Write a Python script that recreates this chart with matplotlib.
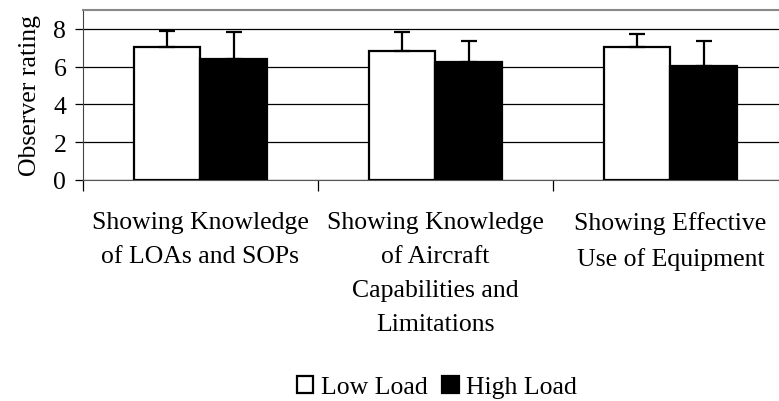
import numpy as np
import matplotlib.pyplot as plt

plt.rcParams['font.family'] = ['Liberation Serif', 'DejaVu Serif']

categories = ['Showing Knowledge\nof LOAs and SOPs',
              'Showing Knowledge\nof Aircraft\nCapabilities and\nLimitations',
              'Showing Effective\nUse of Equipment']
low_load = [7.05, 6.84, 7.02]
low_err = [0.82, 0.99, 0.70]
high_load = [6.40, 6.26, 6.05]
high_err = [1.41, 1.11, 1.29]

fig = plt.figure(figsize=(7.79, 4.02), dpi=100)
ax = fig.add_axes([83/779, 1-181/402, 705/779, 170/402])

x = np.arange(len(categories))
w = 0.285
ekw = dict(elinewidth=1.6, capthick=1.6, capsize=5.5, ecolor='black')
ax.bar(x - w/2, low_load, w, yerr=[[0]*3, low_err], color='white',
       edgecolor='black', linewidth=1.6, error_kw=ekw, label='Low Load', zorder=3)
ax.bar(x + w/2, high_load, w, yerr=[[0]*3, high_err], color='black',
       edgecolor='black', linewidth=1.6, error_kw=ekw, label='High Load', zorder=3)

fs = 18.5
ax.set_xlim(-0.5, 2.5)
ax.set_ylim(0, 9)
ax.set_yticks([0, 2, 4, 6, 8])
ax.yaxis.grid(True, color='black', linewidth=0.9)
ax.set_axisbelow(True)
ax.tick_params(axis='y', labelsize=fs, length=6, width=0.9, pad=6)

# category labels sit between boundary ticks
ax.set_xticks([-0.5, 0.5, 1.5, 2.5])
ax.set_xticklabels([])
ax.tick_params(axis='x', length=8, width=0.9)
for xi, lab in zip(x, categories):
    ax.text(xi, -0.18, lab, transform=ax.get_xaxis_transform(), ha='center',
            va='top', fontsize=fs, linespacing=1.72)

ax.set_ylabel('Observer rating', fontsize=fs, labelpad=9)
for s in ['top', 'right']:
    ax.spines[s].set_color('#888888')
    ax.spines[s].set_linewidth(1.5)
ax.spines['left'].set_color('#444444')
ax.spines['bottom'].set_color('#555555')

fig.legend(loc='center', bbox_to_anchor=(437/779, 1-388/402), ncol=2,
           frameon=False, fontsize=fs, handlelength=0.65, handleheight=0.65,
           handletextpad=0.3, columnspacing=0.55, borderpad=0)

fig.savefig('out.png', dpi=100)
